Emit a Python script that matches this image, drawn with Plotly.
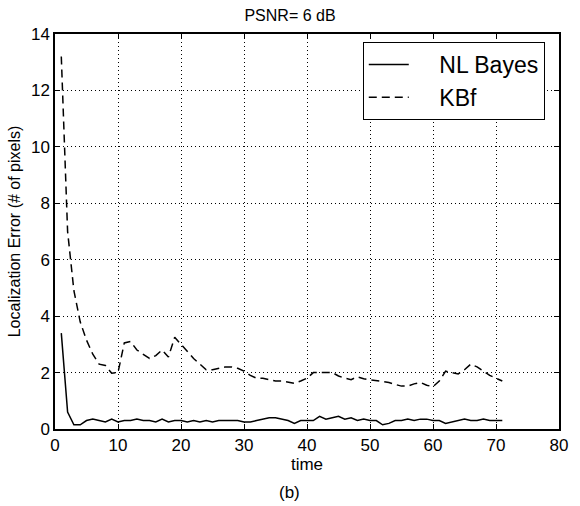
import plotly.graph_objects as go

time = list(range(1, 72))
nl_bayes = [3.4, 0.6, 0.15, 0.15, 0.3, 0.35, 0.3, 0.25, 0.35, 0.25,
            0.3, 0.3, 0.35, 0.3, 0.3, 0.25, 0.35, 0.25, 0.3, 0.3,
            0.25, 0.3, 0.25, 0.3, 0.25, 0.3, 0.3, 0.3, 0.3, 0.25,
            0.25, 0.3, 0.35, 0.4, 0.4, 0.35, 0.3, 0.2, 0.3, 0.3,
            0.3, 0.45, 0.35, 0.4, 0.45, 0.35, 0.4, 0.3, 0.35, 0.3,
            0.3, 0.15, 0.2, 0.3, 0.3, 0.35, 0.3, 0.35, 0.35, 0.3,
            0.3, 0.2, 0.25, 0.3, 0.35, 0.3, 0.3, 0.35, 0.3, 0.3, 0.3]
kbf = [13.2, 7.0, 4.9, 3.8, 3.15, 2.65, 2.3, 2.25, 1.98, 2.0,
       3.05, 3.1, 2.8, 2.65, 2.5, 2.6, 2.8, 2.55, 3.25, 3.0,
       2.75, 2.5, 2.3, 2.1, 2.1, 2.15, 2.2, 2.2, 2.15, 2.05,
       1.9, 1.8, 1.8, 1.75, 1.7, 1.7, 1.65, 1.62, 1.7, 1.8,
       2.0, 2.0, 1.98, 2.0, 1.88, 1.8, 1.75, 1.85, 1.78, 1.75,
       1.72, 1.68, 1.65, 1.58, 1.52, 1.52, 1.6, 1.65, 1.55, 1.5,
       1.7, 2.05, 2.0, 1.95, 2.1, 2.3, 2.2, 2.05, 1.9, 1.8, 1.7]
x_ticks = [0, 10, 20, 30, 40, 50, 60, 70, 80]
y_ticks = [0, 2, 4, 6, 8, 10, 12, 14]

FONT = "Liberation Sans, Arial, Helvetica, sans-serif"
PAD = "\u00a0" * 4

fig = go.Figure()
fig.add_trace(go.Scatter(x=time, y=nl_bayes, mode="lines", name=PAD + "NL Bayes",
                         line=dict(color="black", width=1.5)))
fig.add_trace(go.Scatter(x=time, y=kbf, mode="lines", name=PAD + "KBf",
                         line=dict(color="black", width=1.5, dash="8px,5px")))

axis_common = dict(
    showline=True, linecolor="black", linewidth=1.5, mirror="ticks",
    ticks="inside", ticklen=5, tickcolor="black", tickwidth=1,
    showgrid=True, gridcolor="black", gridwidth=1, griddash="1px,3px",
    zeroline=False, tickfont=dict(family=FONT, size=17, color="black"),
)

fig.update_layout(
    width=580, height=506,
    margin=dict(l=55, r=19, t=34, b=77),
    paper_bgcolor="white", plot_bgcolor="white",
    font=dict(family=FONT, color="black"),
    title=dict(text="PSNR= 6 dB", x=0.5, xref="container", xanchor="center",
               y=1 - 15 / 506, yref="container", yanchor="middle",
               font=dict(family=FONT, size=16, color="black")),
    xaxis=dict(range=[0, 80], tickvals=x_ticks,
               title=dict(text="time", standoff=0,
                          font=dict(family=FONT, size=17, color="black")),
               **axis_common),
    yaxis=dict(range=[0, 14], tickvals=y_ticks,
               title=dict(text="Localization Error (# of pixels)", standoff=6,
                          font=dict(family=FONT, size=16, color="black")),
               **axis_common),
    legend=dict(x=(364 - 55) / 506, y=1 - (42 - 34) / 395, xanchor="left", yanchor="top",
                bgcolor="white", bordercolor="black", borderwidth=1,
                font=dict(family=FONT, size=23, color="black"),
                itemwidth=40, tracegroupgap=0),
    showlegend=True,
)

fig.add_annotation(text="(b)", xref="paper", x=(290 - 55) / 506,
                   yref="paper", y=-(492 - 429) / 395, yanchor="middle",
                   showarrow=False, font=dict(family=FONT, size=17, color="black"))

fig.write_html("out.html")
